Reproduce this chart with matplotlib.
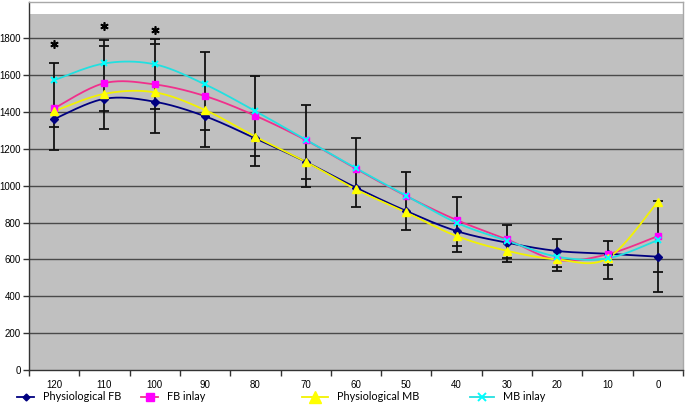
import numpy as np
import matplotlib
matplotlib.use("Agg")
import matplotlib.pyplot as plt
from matplotlib.lines import Line2D

# ---------------- data ----------------
categories = ["120", "110", "100", "90", "80", "70", "60", "50", "40", "30", "20", "10", "0"]
phys_fb = [1362, 1472, 1456, 1377, 1257, 1130, 990, 863, 754, 691, 646, 631, 615]
fb_inlay = [1420, 1557, 1550, 1487, 1380, 1248, 1092, 944, 814, 709, 597, 628, 727]
phys_mb = [1405, 1499, 1507, 1411, 1266, 1130, 980, 855, 727, 647, 600, 606, 913]
mb_inlay = [1573, 1664, 1659, 1550, 1405, 1250, 1095, 946, 799, 702, 615, 606, 705]

# error bar extents (outer top / inner top / inner bottom / outer bottom)
err_top = [1664, 1790, 1794, 1727, 1597, 1438, 1257, 1076, 937, 787, 711, 700, 917]
err_top2 = [np.nan, 1758, 1769, np.nan, np.nan, np.nan, np.nan, np.nan, np.nan, np.nan, np.nan, np.nan, np.nan]
err_bot2 = [1317, 1405, 1414, 1302, 1163, 1036, np.nan, np.nan, 675, 609, 561, 570, 533]
err_bot = [1194, 1308, 1289, 1212, 1108, 995, 883, 760, 642, 584, 539, 492, 425]

# significance asterisks
sig_y = [1769, 1866, 1845] + [np.nan] * 10

yticks = [0, 200, 400, 600, 800, 1000, 1200, 1400, 1600, 1800]


def smooth(xs, ys, n=30):
    """Excel-like smoothed line (Catmull-Rom -> cubic Bezier)."""
    P = np.column_stack([xs, ys]).astype(float)
    out = []
    m = len(P)
    for i in range(m - 1):
        p0 = P[i - 1] if i > 0 else P[i]
        p1 = P[i]
        p2 = P[i + 1]
        p3 = P[i + 2] if i + 2 < m else P[i + 1]
        c1 = p1 + (p2 - p0) / 6.0
        c2 = p2 - (p3 - p1) / 6.0
        t = np.linspace(0, 1, n, endpoint=(i == m - 2))[:, None]
        seg = ((1 - t) ** 3) * p1 + 3 * ((1 - t) ** 2) * t * c1 + 3 * (1 - t) * t ** 2 * c2 + t ** 3 * p2
        out.append(seg)
    out = np.vstack(out)
    return out[:, 0], out[:, 1]


W, H = 685, 409
fig = plt.figure(figsize=(W / 100, H / 100), dpi=100)
ax = fig.add_axes([29 / W, 1 - 370 / H, (683 - 29) / W, (370 - 1.5) / H])
ax.set_facecolor("#c0c0c0")
ax.set_xlim(-0.5, len(categories) - 0.5)
ax.set_ylim(0, 2000)
ax.axhspan(1930, 2000, color="white", zorder=0.5, lw=0)

x = np.arange(len(categories))

# gridlines
for v in yticks[1:]:
    ax.axhline(v, color="#4a4a4a", lw=1.0, zorder=1)

# error bars
top = np.array(err_top, float)
bot = np.array(err_bot, float)
ax.vlines(x, bot, top, color="#111111", lw=1.3, zorder=2)
for arr in (err_top, err_top2, err_bot2, err_bot):
    ax.plot(x, arr, ls="none", marker="_", ms=7, mew=1.3, color="#111111", zorder=2)

series = [
    ("Physiological FB", phys_fb, "#000080", "#000080", "D", 3.6, 1.0),
    ("FB inlay", fb_inlay, "#f0308c", "#ff00ff", "s", 5, 1.0),
    ("Physiological MB", phys_mb, "#f2f200", "#ffff00", "^", 5.5, 1.0),
    ("MB inlay", mb_inlay, "#22e0e0", "#00ffff", "x", 5, 1.4),
]
legend_ms = [3.5, 5.5, 8, 5.5]
handles = []
for (name, vals, lc, mc, mk, ms, mew), lms in zip(series, legend_ms):
    sx, sy = smooth(x, vals)
    ax.plot(sx, sy, color=lc, lw=1.3, zorder=3)
    ax.plot(x, vals, ls="none", marker=mk, ms=ms, color=mc, mec=mc, mew=mew, zorder=4)
    handles.append(Line2D([], [], color=lc, lw=1.3, marker=mk, ms=lms, mfc=mc, mec=mc, mew=mew))

# asterisks
ax.plot(x, sig_y, ls="none", marker=(6, 2, 0), ms=6, mew=1.2, color="black", zorder=5)

# axes styling
ax.set_yticks(yticks)
ax.set_yticklabels([str(v) for v in yticks], fontsize=7, family="Liberation Sans")
ax.set_xticks(x)
ax.set_xticklabels(categories, fontsize=7, family="Liberation Sans")
ax.set_xticks(np.arange(-0.5, len(categories)), minor=True)
ax.tick_params(axis="x", which="major", length=0, pad=7)
ax.tick_params(axis="x", which="minor", length=4, width=1, color="#333333", direction="out")
ax.tick_params(axis="y", which="major", length=4, width=1, color="#333333", direction="out", pad=2)
for s in ("left", "bottom"):
    ax.spines[s].set_color("#333333")
    ax.spines[s].set_linewidth(1.0)
for s in ("top", "right"):
    ax.spines[s].set_color("#a8a8a8")
    ax.spines[s].set_linewidth(1.0)

# legend entries placed individually
legend_x = [17 / W, 141 / W, 302 / W, 470 / W]
handle_len = [1.6, 1.6, 2.4, 2.2]
for h, (name, *_), lx, hl in zip(handles, series, legend_x, handle_len):
    fig.legend([h], [name], loc="center left", bbox_to_anchor=(lx, 1 - 397 / H),
               frameon=False, handlelength=hl, handletextpad=0.8, borderpad=0, borderaxespad=0,
               prop={"family": "Lato", "size": 7.8})

fig.savefig("out.png", dpi=100)
